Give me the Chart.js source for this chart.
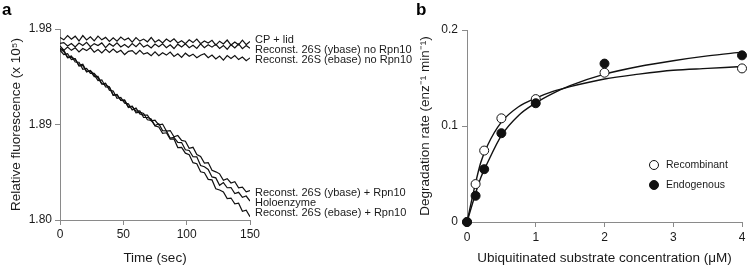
<!DOCTYPE html>
<html>
<head>
<meta charset="utf-8">
<script src="https://cdn.jsdelivr.net/npm/chart.js@4.4.1/dist/chart.umd.min.js"></script>
<style>
  body { margin: 0; background: #fff; }
  #wrap { position: relative; width: 750px; height: 268px; overflow: hidden; }
  canvas { position: absolute; top: 0; }
  #chartA { left: 0; }
  #chartB { left: 400px; }
</style>
</head>
<body>
<div id="wrap">
  <canvas id="chartA" width="420" height="268"></canvas>
  <canvas id="chartB" width="350" height="268"></canvas>
</div>
<script>
// ---- Panel a: fluorescence traces ----
const timeA = [0, 3, 6, 9, 12, 15, 18, 21, 24, 27, 30, 33, 36, 39, 42, 45, 48, 51, 54, 57, 60,
  63, 66, 69, 72, 75, 78, 81, 84, 87, 90, 93, 96, 99, 102, 105, 108, 111, 114, 117, 120,
  123, 126, 129, 132, 135, 138, 141, 144, 147, 150];

const cpLid = [1.9721, 1.9698, 1.9737, 1.9703, 1.9732, 1.9687, 1.9738, 1.9697, 1.9727, 1.9688,
  1.9733, 1.9698, 1.9721, 1.9683, 1.9716, 1.9685, 1.9724, 1.9695, 1.9715, 1.9676, 1.9719,
  1.9686, 1.9705, 1.9679, 1.9720, 1.9676, 1.9699, 1.9668, 1.9706, 1.9679, 1.9708, 1.9669,
  1.9690, 1.9662, 1.9699, 1.9672, 1.9705, 1.9662, 1.9687, 1.9668, 1.9693, 1.9648, 1.9685,
  1.9659, 1.9696, 1.9649, 1.9678, 1.9651, 1.9695, 1.9652, 1.9683];

const ybaseNo = [1.9665, 1.9672, 1.9640, 1.9663, 1.9631, 1.9668, 1.9644, 1.9675, 1.9633, 1.9662,
  1.9644, 1.9669, 1.9625, 1.9662, 1.9638, 1.9669, 1.9631, 1.9654, 1.9626, 1.9663, 1.9633,
  1.9670, 1.9630, 1.9649, 1.9621, 1.9658, 1.9632, 1.9661, 1.9623, 1.9652, 1.9616, 1.9657,
  1.9631, 1.9660, 1.9624, 1.9647, 1.9617, 1.9660, 1.9624, 1.9651, 1.9629, 1.9656, 1.9616,
  1.9645, 1.9609, 1.9652, 1.9622, 1.9659, 1.9615, 1.9644, 1.9618];

const ebaseNo = [1.9619, 1.9599, 1.9631, 1.9599, 1.9623, 1.9584, 1.9616, 1.9596, 1.9624, 1.9582,
  1.9606, 1.9574, 1.9610, 1.9578, 1.9610, 1.9579, 1.9599, 1.9559, 1.9589, 1.9597, 1.9563,
  1.9599, 1.9563, 1.9577, 1.9549, 1.9584, 1.9548, 1.9576, 1.9554, 1.9582, 1.9542, 1.9566,
  1.9532, 1.9572, 1.9544, 1.9563, 1.9529, 1.9553, 1.9567, 1.9529, 1.9555, 1.9517, 1.9545,
  1.9507, 1.9549, 1.9522, 1.9550, 1.9512, 1.9536, 1.9502, 1.9528];

const ybasePlus = [1.9640, 1.9602, 1.9534, 1.9545, 1.9489, 1.9487, 1.9421, 1.9429, 1.9382, 1.9383,
  1.9339, 1.9281, 1.9290, 1.9224, 1.9215, 1.9147, 1.9155, 1.9101, 1.9094, 1.9038, 1.9055,
  1.9000, 1.8988, 1.8989, 1.8935, 1.8940, 1.8897, 1.8904, 1.8838, 1.8843, 1.8784, 1.8796,
  1.8750, 1.8743, 1.8676, 1.8685, 1.8616, 1.8599, 1.8536, 1.8541, 1.8469, 1.8454, 1.8435,
  1.8374, 1.8390, 1.8349, 1.8360, 1.8304, 1.8309, 1.8266, 1.8278];

const holoenzyme = [1.9600, 1.9558, 1.9568, 1.9513, 1.9521, 1.9451, 1.9457, 1.9395, 1.9410, 1.9369,
  1.9313, 1.9321, 1.9254, 1.9252, 1.9175, 1.9179, 1.9129, 1.9131, 1.9066, 1.9072, 1.9011,
  1.9017, 1.9004, 1.8945, 1.8939, 1.8890, 1.8907, 1.8842, 1.8840, 1.8771, 1.8778, 1.8731,
  1.8730, 1.8662, 1.8655, 1.8596, 1.8595, 1.8514, 1.8502, 1.8477, 1.8406, 1.8397, 1.8327,
  1.8353, 1.8304, 1.8306, 1.8250, 1.8261, 1.8213, 1.8226, 1.8178];

const ebasePlus = [1.9612, 1.9588, 1.9528, 1.9535, 1.9515, 1.9457, 1.9469, 1.9401, 1.9402, 1.9351,
  1.9353, 1.9283, 1.9272, 1.9254, 1.9177, 1.9183, 1.9127, 1.9125, 1.9060, 1.9070, 1.9027,
  1.9029, 1.8966, 1.8966, 1.8953, 1.8887, 1.8877, 1.8817, 1.8822, 1.8762, 1.8764, 1.8683,
  1.8684, 1.8630, 1.8615, 1.8540, 1.8530, 1.8454, 1.8445, 1.8383, 1.8378, 1.8295, 1.8283,
  1.8265, 1.8202, 1.8207, 1.8153, 1.8158, 1.8082, 1.8093, 1.8030];

const topLabels = ['CP + lid', 'Reconst. 26S (ybase) no Rpn10', 'Reconst. 26S (ebase) no Rpn10'];
const bottomLabels = ['Reconst. 26S (ybase) + Rpn10', 'Holoenzyme', 'Reconst. 26S (ebase) + Rpn10'];
const xTicksA = [0, 50, 100, 150];
const yTicksA = [1.80, 1.89, 1.98];

// ---- Panel b: degradation kinetics ----
const concB = [0, 0.125, 0.25, 0.5, 1, 2, 4];
const recombinant = [0, 0.0395, 0.0744, 0.108, 0.128, 0.1555, 0.160];
const endogenous = [0, 0.0273, 0.055, 0.0925, 0.1237, 0.165, 0.1736];
const fitX = [0, 0.1, 0.2, 0.3, 0.5, 0.75, 1, 1.25, 1.5, 2, 2.5, 3, 3.5, 4];
const recombinantFit = [0, 0.033, 0.062, 0.080, 0.104, 0.120, 0.129, 0.136, 0.141, 0.149, 0.154, 0.158, 0.160, 0.162];
const endogenousFit = [0, 0.024, 0.046, 0.062, 0.090, 0.111, 0.124, 0.134, 0.142, 0.154, 0.162, 0.168, 0.173, 0.177];
const xTicksB = [0, 1, 2, 3, 4];
const yTicksB = [0, 0.1, 0.2];

const FONT = "'Liberation Sans', Arial, Helvetica, sans-serif";
const INK = '#1a1a1a';
const AXIS = '#8a8a8a';

function pts(xs, ys) {
    return xs.map((x, i) => ({ x: x, y: ys[i] }));
}

// Panel letter + trace labels
const panelLetter = letter => ({
    id: 'panelLetter',
    afterDraw(chart) {
        const ctx = chart.ctx;
        ctx.save();
        ctx.fillStyle = '#000';
        ctx.font = `bold 17px ${FONT}`;
        ctx.textBaseline = 'alphabetic';
        ctx.fillText(letter, chart.canvas.id === 'chartA' ? 2 : 16, 15);
        ctx.restore();
    }
});

const traceLabels = {
    id: 'traceLabels',
    afterDatasetsDraw(chart) {
        const { ctx, scales: { x, y } } = chart;
        const lx = x.getPixelForValue(150) + 5;
        ctx.save();
        ctx.fillStyle = INK;
        ctx.font = `11px ${FONT}`;
        ctx.textBaseline = 'middle';
        const topY = y.getPixelForValue(cpLid[cpLid.length - 1]) - 1;
        topLabels.forEach((t, i) => ctx.fillText(t, lx, topY + i * 10));
        const botY = y.getPixelForValue(ebasePlus[ebasePlus.length - 1]) - 3.5;
        bottomLabels.forEach((t, i) => ctx.fillText(t, lx, botY - (2 - i) * 10));
        ctx.restore();
    }
};

const legendB = {
    id: 'legendB',
    afterDatasetsDraw(chart) {
        const { ctx, chartArea } = chart;
        const cx = chartArea.left + 187;
        const rows = [['Recombinant', '#fff', 165], ['Endogenous', '#111', 185]];
        ctx.save();
        ctx.font = `10.5px ${FONT}`;
        ctx.textBaseline = 'middle';
        rows.forEach(([label, fill, cy]) => {
            ctx.beginPath();
            ctx.arc(cx, cy, 4.5, 0, Math.PI * 2);
            ctx.fillStyle = fill;
            ctx.fill();
            ctx.lineWidth = 1;
            ctx.strokeStyle = '#111';
            ctx.stroke();
            ctx.fillStyle = INK;
            ctx.fillText(label, cx + 12, cy + 0.5);
        });
        ctx.restore();
    }
};

function axisCommon(tickList, fmt) {
    return {
        type: 'linear',
        afterBuildTicks: s => { s.ticks = tickList.map(v => ({ value: v })); },
        ticks: {
            font: { family: FONT, size: 12 },
            color: INK,
            autoSkip: false,
            maxRotation: 0,
            callback: fmt
        },
        grid: { drawOnChartArea: false, drawTicks: true, tickLength: 5, color: AXIS, lineWidth: 1 },
        border: { display: true, color: AXIS, width: 1 }
    };
}

// ---- Chart a ----
const traceSets = [cpLid, ybaseNo, ebaseNo, ybasePlus, holoenzyme, ebasePlus];

const xA = axisCommon(xTicksA, v => String(v));
xA.min = 0; xA.max = 150;
xA.ticks.padding = 2;
xA.title = { display: true, text: 'Time (sec)', font: { family: FONT, size: 13.5 }, color: INK, padding: { top: 0, bottom: 2 } };
xA.afterFit = s => { s.height = 48; };

const yA = axisCommon(yTicksA, v => v.toFixed(2));
yA.min = 1.80; yA.max = 1.98;
yA.ticks.padding = 3;
yA.title = { display: true, text: 'Relative fluorescence (x 10\u2075)', font: { family: FONT, size: 13.5 }, color: INK, padding: { top: 8, bottom: 0 } };
yA.afterFit = s => { s.width = 60; };

new Chart(document.getElementById('chartA'), {
    type: 'scatter',
    data: {
        datasets: traceSets.map(series => ({
            data: pts(timeA, series),
            showLine: true,
            borderColor: '#111',
            borderWidth: 1.2,
            pointRadius: 0,
            tension: 0
        }))
    },
    options: {
        responsive: false,
        animation: false,
        layout: { padding: { top: 29, right: 170, bottom: 0, left: 0 } },
        plugins: { legend: { display: false }, tooltip: { enabled: false } },
        scales: { x: xA, y: yA }
    },
    plugins: [traceLabels, panelLetter('a')]
});

// ---- Chart b ----
const xB = axisCommon(xTicksB, v => String(v));
xB.min = 0; xB.max = 4;
xB.ticks.padding = 3;
xB.title = { display: true, text: 'Ubiquitinated substrate concentration (\u03bcM)', font: { family: FONT, size: 13.5 }, color: INK, padding: { top: 0, bottom: 2 } };
xB.afterFit = s => { s.height = 46; };

const yB = axisCommon(yTicksB, v => String(Math.round(v * 10) / 10));
yB.min = 0; yB.max = 0.2;
yB.ticks.padding = 4;
yB.title = { display: true, text: 'Degradation rate (enz\u207b\u00b9 min\u207b\u00b9)', font: { family: FONT, size: 13.5 }, color: INK, padding: { top: 17, bottom: 0 } };
yB.afterFit = s => { s.width = 67; };

new Chart(document.getElementById('chartB'), {
    type: 'scatter',
    data: {
        datasets: [
            { data: pts(fitX, recombinantFit), showLine: true, borderColor: '#111', borderWidth: 1.4, pointRadius: 0, cubicInterpolationMode: 'monotone', order: 3, clip: false },
            { data: pts(fitX, endogenousFit), showLine: true, borderColor: '#111', borderWidth: 1.4, pointRadius: 0, cubicInterpolationMode: 'monotone', order: 2, clip: false },
            { data: pts(concB, recombinant), pointRadius: 4.5, pointBackgroundColor: '#fff', pointBorderColor: '#111', pointBorderWidth: 1, order: 1, clip: false },
            { data: pts(concB, endogenous), pointRadius: 4.5, pointBackgroundColor: '#111', pointBorderColor: '#111', pointBorderWidth: 1, order: 0, clip: false }
        ]
    },
    options: {
        responsive: false,
        animation: false,
        layout: { padding: { top: 30, right: 8, bottom: 0, left: 0 } },
        plugins: { legend: { display: false }, tooltip: { enabled: false } },
        scales: { x: xB, y: yB }
    },
    plugins: [legendB, panelLetter('b')]
});
</script>
</body>
</html>
